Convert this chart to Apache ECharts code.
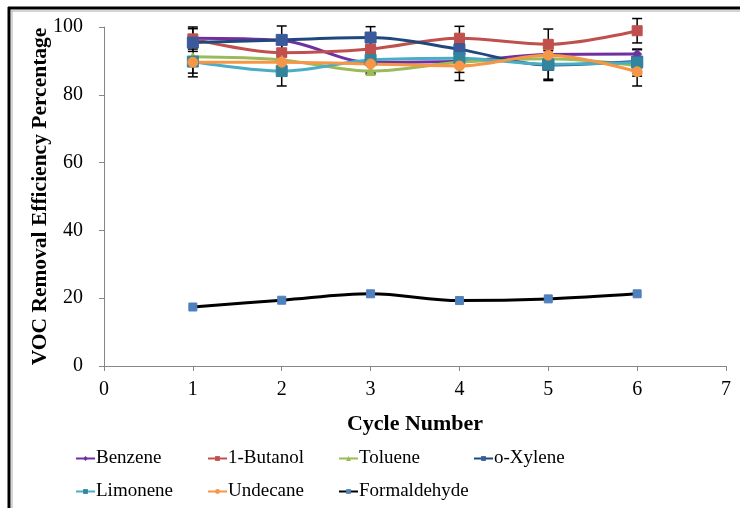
<!DOCTYPE html>
<html>
<head>
<meta charset="utf-8">
<script src="https://cdn.jsdelivr.net/npm/echarts@6/dist/echarts.min.js"></script>
<style>html,body{margin:0;padding:0;background:#fff;}#c{width:740px;height:508px;}</style>
</head>
<body>
<div id="c"></div>
<script>
var cycles = [1, 2, 3, 4, 5, 6];
var benzene = [96.7, 96.0, 89.6, 89.9, 91.9, 92.0];
var butanol = [96.5, 92.4, 93.5, 96.7, 94.9, 98.9];
var toluene = [91.2, 90.3, 87.0, 89.6, 90.6, 88.6];
var oxylene = [95.4, 96.2, 96.9, 93.4, 88.8, 89.8];
var limonene = [89.8, 87.0, 90.3, 90.8, 89.0, 89.5];
var undecane = [89.6, 89.6, 89.1, 88.5, 91.7, 86.8];
var formaldehyde = [17.4, 19.4, 21.3, 19.3, 19.8, 21.3];
var errOxylene = [4.6, 4.1, 3.2, 3.4, 4.2, 3.5];
var errButanol = [3.0, 2.6, 3.0, 3.5, 4.5, 3.6];
var errLimonene = [4.5, 4.4, 3.8, 4.2, 4.8, 4.0];
var errUndecane = [3.2, 2.6, 3.0, 4.3, 3.0, 4.2];
var yTicks = [0, 20, 40, 60, 80, 100];
var xTicks = [0, 1, 2, 3, 4, 5, 6, 7];

var names = ['Benzene', '1-Butanol', 'Toluene', 'o-Xylene', 'Limonene', 'Undecane', 'Formaldehyde'];
var values = [benzene, butanol, toluene, oxylene, limonene, undecane, formaldehyde];
var lineColors = ['#7030A0', '#C0504D', '#9BBB59', '#1F497D', '#4BACC6', '#F79646', '#000000'];
var markColors = ['#7030A0', '#C0504D', '#9BBB59', '#3A5A9C', '#31859C', '#F79646', '#4F81BD'];
var symbols = ['diamond', 'rect', 'triangle', 'rect', 'rect', 'circle', 'rect'];
var symSizes = [9, 10, 9, 11, 11, 10, 8];

function pairs(arr) { return cycles.map(function (c, i) { return [c, arr[i]]; }); }
function errData(arr, err) { return cycles.map(function (c, i) { return [c, arr[i], err[i]]; }); }

var series = [];
var errSets = [errData(oxylene, errOxylene), errData(butanol, errButanol), errData(limonene, errLimonene), errData(undecane, errUndecane)];
errSets.forEach(function (d) {
  series.push({
    type: 'custom', silent: true, z: 1,
    renderItem: function (params, api) {
      var x = api.value(0), y = api.value(1), e = api.value(2);
      var top = api.coord([x, y + e]), bot = api.coord([x, y - e]);
      var s = {stroke: '#000', lineWidth: 1.5};
      return {type: 'group', children: [
        {type: 'line', shape: {x1: top[0], y1: top[1], x2: bot[0], y2: bot[1]}, style: s},
        {type: 'line', shape: {x1: top[0] - 5, y1: top[1], x2: top[0] + 5, y2: top[1]}, style: s},
        {type: 'line', shape: {x1: bot[0] - 5, y1: bot[1], x2: bot[0] + 5, y2: bot[1]}, style: s}
      ]};
    },
    data: d
  });
});
names.forEach(function (n, i) {
  series.push({
    name: n, type: 'line', smooth: 0.35, z: 3,
    data: pairs(values[i]),
    symbol: symbols[i], symbolSize: symSizes[i],
    lineStyle: {color: lineColors[i], width: 3},
    itemStyle: {color: markColors[i], borderColor: markColors[i]}
  });
});

var legendPos = [[75, 449], [207, 449], [338, 449], [473, 449], [75, 482], [207, 482], [338, 482]];
var legends = names.map(function (n, i) {
  return {
    data: [n], left: legendPos[i][0], top: legendPos[i][1],
    itemWidth: 19, itemHeight: 6, itemGap: 0, padding: 0,
    lineStyle: {width: 2},
    textStyle: {fontFamily: 'Liberation Serif', fontSize: 19, color: '#000', padding: [0, 0, 0, -4]}
  };
});

var chart = echarts.init(document.getElementById('c'));
chart.setOption({
  animation: false,
  backgroundColor: '#fff',
  grid: {left: 104, right: 14, top: 27, bottom: 142},
  legend: legends,
  xAxis: {
    type: 'value', min: 0, max: 7, interval: 1,
    name: 'Cycle Number', nameLocation: 'middle', nameGap: 47, nameMoveOverlap: false,
    nameTextStyle: {fontFamily: 'Liberation Serif', fontWeight: 'bold', fontSize: 22, color: '#000'},
    axisLine: {lineStyle: {color: '#868686', width: 1}},
    axisTick: {show: true, length: 5, lineStyle: {color: '#868686'}},
    axisLabel: {fontFamily: 'Liberation Serif', fontSize: 20, color: '#000', margin: 14,
      formatter: function (v) { return xTicks.indexOf(v) >= 0 ? String(v) : ''; }},
    splitLine: {show: false}
  },
  yAxis: {
    type: 'value', min: 0, max: 100, interval: 20,
    name: 'VOC Removal Efficiency Percentage', nameLocation: 'middle', nameGap: 53, nameMoveOverlap: false,
    nameTextStyle: {fontFamily: 'Liberation Serif', fontWeight: 'bold', fontSize: 21.5, color: '#000'},
    axisLine: {show: true, lineStyle: {color: '#868686', width: 1}},
    axisTick: {show: true, length: 5, lineStyle: {color: '#868686'}},
    axisLabel: {fontFamily: 'Liberation Serif', fontSize: 20, color: '#000', margin: 21,
      formatter: function (v) { return yTicks.indexOf(v) >= 0 ? String(v) : ''; }},
    splitLine: {show: false}
  },
  graphic: [
    {type: 'line', shape: {x1: 8, y1: 8, x2: 740, y2: 8}, style: {stroke: '#000', lineWidth: 3}},
    {type: 'line', shape: {x1: 9, y1: 7, x2: 9, y2: 508}, style: {stroke: '#000', lineWidth: 3}},
    {type: 'line', shape: {x1: 11, y1: 11, x2: 740, y2: 11}, style: {stroke: '#aaa', lineWidth: 1}},
    {type: 'line', shape: {x1: 12, y1: 11, x2: 12, y2: 508}, style: {stroke: '#aaa', lineWidth: 1}}
  ],
  series: series
});
</script>
</body>
</html>
